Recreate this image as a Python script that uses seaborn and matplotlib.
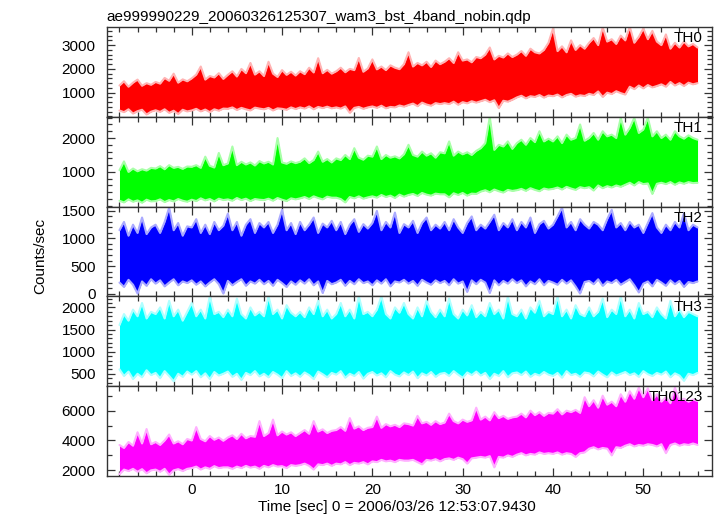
import numpy as np
import pandas as pd
import matplotlib
matplotlib.use('Agg')
import matplotlib.pyplot as plt
from matplotlib.ticker import FixedLocator, MultipleLocator
import seaborn as sns

# ── DATA (envelope of the binned light curves) ──────────────────────────────
TITLE  = "ae999990229_20060326125307_wam3_bst_4band_nobin.qdp"
XLABEL = "Time [sec] 0 = 2006/03/26 12:53:07.9430"
YLABEL = "Counts/sec"
BANDS  = ["TH0", "TH1", "TH2", "TH3", "TH0123"]

# sample times (sec), 0.5 s grid from -8 to 56
TIME = np.arange(-8.0, 56.25, 0.5)

TH0_HI = [
    1300, 1480, 1250, 1420, 1550, 1290, 1400, 1330,
    1450, 1380, 1620, 1500, 1800, 1420, 1560, 1480,
    1600, 1760, 2100, 1550, 1700, 1640, 1820, 1580,
    1750, 1900, 1680, 2000, 1820, 2250, 1760, 1900,
    1700, 2300, 1800, 1660, 1950, 1750, 1880, 1720,
    1900, 1780, 2050, 1850, 2450, 1820, 1960, 1800,
    1900, 2050, 1860, 2000, 1950, 2460, 1880, 2020,
    2400, 1980, 2100, 1950, 2150, 2050, 1990, 2200,
    2700, 2100, 2250, 2150, 2300, 2080, 2350, 2200,
    2300, 2450, 2250, 2700, 2350, 2400, 2280, 2500,
    2450, 2600, 2900, 2400, 2550, 2480, 2650, 2500,
    2600, 2750, 2550, 2850, 2700, 2650, 2800, 3100,
    3700, 2750, 2950, 2700, 3200, 2800, 3000, 2850,
    3100, 3300, 3000, 3750, 3150, 3250, 3050, 3400,
    3200, 3770, 3100, 3350, 3700, 3250, 3600, 3150,
    3000, 3450, 2850, 3100, 2900, 3150, 2950, 3050,
    2900]
TH0_LO = [
    250, 180, 300, 120, 220, 280, 80, 200,
    260, 190, 300, 150, 240, 100, 280, 210,
    250, 320, 210, 290, 180, 300, 240, 330,
    320, 380, 270, 360, 300, 250, 370, 330,
    300, 360, 250, 340, 320, 280, 380, 310,
    380, 330, 420, 300, 400, 350, 410, 340,
    380, 330, 420, 150, 360, 400, 320, 380,
    420, 360, 450, 340, 400, 380, 460, 410,
    480, 540, 430, 580, 500, 450, 560, 520,
    560, 520, 620, 490, 600, 550, 640, 580,
    640, 700, 600, 680, 350, 660, 620, 700,
    800, 870, 760, 850, 820, 900, 790, 880,
    850, 920, 800, 900, 950, 830, 890, 860,
    950, 900, 1050, 820, 1000, 940, 1060, 980,
    920, 1250, 1150, 1300, 1180, 1320, 1220, 1280,
    1350, 1250, 1450, 1300, 1400, 1280, 1420, 1350,
    1400]

TH1_HI = [
    1050, 1310, 1000, 1100, 1020, 1080, 1040, 1120,
    1100, 1170, 1080, 1200, 1120, 1150, 1090, 1160,
    1150, 1200, 1120, 1450, 1180, 1130, 1560, 1200,
    1250, 1750, 1200, 1300, 1220, 1280, 1190, 1320,
    1250, 1300, 1220, 2000, 1280, 1240, 1310, 1260,
    1300, 1400, 1260, 1350, 1600, 1300, 1380, 1280,
    1400, 1350, 1500, 1380, 1700, 1420, 1360, 1480,
    1450, 1750, 1380, 1500, 1420, 1460, 1400, 1520,
    1800, 1500, 1450, 1600, 1480, 1550, 1420, 1580,
    1550, 1900, 1480, 1600, 1520, 1580, 1500, 1620,
    1700, 1850, 2620, 1650, 1800, 1750, 1900, 1680,
    1850, 1950, 1800, 2000, 1880, 2200, 1900, 1980,
    1900, 2050, 1850, 2100, 1950, 2000, 2400, 1920,
    2000, 2150, 1950, 2200, 2050, 2100, 2000, 2600,
    2100, 2300, 2600, 2150, 2250, 2600, 2050, 2200,
    2000, 2100, 1950, 2200, 2050, 1980, 2080, 2000,
    1950]
TH1_LO = [
    150, 100, 190, 120, 160, 90, 180, 130,
    140, 190, 110, 170, 130, 200, 150, 120,
    180, 140, 220, 160, 200, 130, 210, 170,
    190, 150, 230, 170, 210, 140, 200, 180,
    170, 210, 150, 230, 180, 140, 220, 190,
    220, 260, 200, 280, 230, 190, 270, 240,
    240, 200, 100, 260, 220, 280, 210, 250,
    280, 240, 320, 260, 300, 230, 330, 270,
    320, 350, 290, 380, 330, 300, 360, 340,
    340, 250, 370, 320, 380, 300, 360, 350,
    420, 460, 400, 480, 430, 390, 470, 440,
    460, 500, 440, 520, 470, 430, 510, 480,
    500, 540, 480, 560, 510, 470, 550, 520,
    550, 450, 600, 520, 580, 540, 600, 560,
    620, 680, 600, 700, 640, 660, 350, 650,
    680, 640, 700, 620, 690, 650, 700, 670,
    680]

TH2_HI = [
    1150, 1300, 1050, 1250, 1100, 1380, 1080, 1200,
    1250, 1100, 1300, 1560, 1150, 1280, 1050, 1220,
    1200, 1350, 1100, 1250, 1080, 1300, 1150, 1230,
    1450, 1150, 1300, 1050, 1250, 1350, 1100, 1280,
    1200, 1300, 1100, 1250, 1520, 1150, 1280, 1080,
    1300, 1150, 1250, 1380, 1100, 1270, 1200, 1320,
    1150, 1300, 1080, 1250, 1350, 1120, 1260, 1180,
    1280, 1500, 1150, 1300, 1200, 1470, 1100, 1260,
    1200, 1320, 1100, 1280, 1380, 1150, 1250, 1180,
    1300, 1150, 1350, 1200, 1100, 1280, 1400, 1150,
    1250, 1180, 1300, 1430, 1150, 1280, 1200, 1350,
    1150, 1300, 1200, 1380, 1100, 1260, 1320, 1180,
    1250, 1400, 1560, 1200, 1300, 1150, 1350, 1250,
    1180, 1300, 1250, 1150, 1350, 1520, 1200, 1280,
    1150, 1300, 1200, 1250, 1100, 1280, 1460, 1200,
    1100, 1250, 1150, 1300, 1200, 1460, 1150, 1250,
    1200]
TH2_LO = [
    200, 120, 250, 160, 0, 220, 140, 260,
    180, 240, 130, 200, 260, 150, 220, 190,
    240, 160, 220, 130, 200, 260, 170, 0,
    230, 150, 210, 260, 140, 220, 180, 250,
    170, 230, 140, 250, 190, 120, 220, 160,
    240, 180, 260, 150, 220, 10, 230, 170,
    200, 250, 140, 230, 170, 260, 190, 220,
    150, 240, 180, 260, 130, 220, 200, 250,
    180, 230, 140, 250, 200, 160, 240, 190,
    230, 150, 260, 180, 220, 30, 240, 170,
    250, 200, 10, 240, 150, 230, 180, 260,
    190, 240, 130, 220, 170, 260, 150, 230,
    200, 160, 250, 180, 240, 130, 0, 210,
    230, 170, 260, 140, 220, 190, 250, 160,
    210, 260, 150, 20, 180, 220, 130, 250,
    200, 140, 240, 170, 230, 120, 210, 190,
    220]

TH3_HI = [
    1600, 1850, 1700, 1950, 1800, 2100, 1750, 1900,
    1850, 2000, 1750, 2150, 1800, 1950, 1700, 1900,
    2100, 1800, 1950, 1750, 2250, 1850, 1900, 1780,
    1950, 1800, 2200, 1850, 1750, 2000, 1820, 1900,
    1800, 2250, 1850, 1950, 1750, 2050, 1880, 1800,
    1900, 1780, 2000, 1850, 2150, 1800, 1950, 1750,
    1850, 2100, 1800, 1950, 1750, 2250, 1850, 1900,
    1800, 1950, 2250, 1850, 1750, 2000, 1880, 2100,
    1850, 1750, 2000, 1800, 2150, 1900, 1780, 1950,
    1800, 2200, 1850, 1750, 1950, 1820, 2050, 1780,
    1900, 1800, 2100, 1850, 1950, 1750, 2250, 1850,
    1800, 1950, 1750, 2000, 1880, 2150, 1800, 1900,
    1850, 2250, 1800, 1950, 1750, 2050, 1850, 1800,
    2000, 1800, 1900, 2200, 1780, 1950, 1850, 2250,
    1800, 1950, 1750, 2100, 1850, 1900, 1780, 2000,
    1850, 1750, 2150, 1800, 1950, 1780, 1900, 1850,
    1800]
TH3_LO = [
    600, 450, 550, 380, 500, 420, 580, 470,
    520, 400, 560, 450, 330, 500, 430, 550,
    480, 560, 420, 510, 380, 540, 460, 500,
    550, 430, 500, 360, 520, 470, 560, 440,
    500, 420, 540, 480, 400, 560, 450, 510,
    430, 530, 470, 380, 550, 490, 420, 520,
    480, 560, 410, 500, 450, 540, 390, 500,
    540, 460, 510, 420, 560, 480, 440, 530,
    470, 550, 400, 510, 460, 540, 430, 500,
    520, 450, 560, 480, 410, 530, 470, 550,
    460, 520, 380, 500, 450, 560, 420, 510,
    530, 470, 550, 430, 500, 460, 540, 480,
    450, 520, 410, 560, 470, 500, 430, 530,
    510, 440, 550, 480, 420, 530, 460, 500,
    540, 470, 510, 430, 560, 490, 450, 520,
    480, 550, 420, 510, 460, 340, 500, 470,
    520]

TH0123_HI = [
    3700, 3500, 3900, 3650, 4550, 3800, 4770, 3750,
    3900, 3700, 4000, 4400, 3800, 3950, 3750, 4100,
    4000, 4900, 4100, 3950, 4300, 4050, 4200, 3980,
    4200, 4350, 4100, 4450, 4150, 4300, 4250, 5300,
    4300, 4500, 5400, 4350, 4600, 4400, 4550, 4300,
    4500, 4700, 4450, 5300, 4600, 4750, 4500, 4650,
    4700, 4900, 4650, 5500, 4800, 4950, 4700, 4850,
    4900, 5600, 4850, 5100, 4950, 5050, 4900, 5150,
    5100, 5000, 5650, 5150, 5250, 5050, 5300, 5100,
    5200, 5800, 5300, 5150, 5400, 5250, 5350, 6200,
    5400, 5600, 5350, 5900, 5500, 5650, 5450, 5550,
    5600, 5800, 5550, 6000, 5700, 5900, 5650, 5850,
    5800, 6100, 5750, 6000, 5900, 6050, 5850, 6900,
    6300, 6700, 6200, 7000, 6400, 6600, 6300, 7100,
    6600, 7300, 6800, 7550, 6900, 7500, 6700, 7100,
    6600, 6900, 6500, 7550, 6700, 6800, 6600, 6750,
    6650]
TH0123_LO = [
    1750, 2050, 1950, 2100, 1900, 2080, 1800, 2000,
    2050, 1900, 2100, 1700, 2000, 2080, 1950, 2100,
    2150, 2250, 2050, 2200, 2100, 2280, 2150, 2200,
    2200, 2100, 2250, 2150, 2300, 2180, 2250, 2100,
    2300, 2200, 2350, 2250, 2280, 2150, 2350, 2300,
    2350, 2450, 2300, 2050, 2400, 2350, 2450, 2300,
    2450, 2400, 2550, 2350, 2500, 2450, 2550, 2400,
    2600, 2550, 2700, 2600, 2650, 2550, 2700, 2650,
    2650, 2700, 2550, 2400, 2700, 2650, 2750, 2600,
    2750, 2800, 2700, 2850, 2750, 2450, 2800, 2850,
    2900, 2850, 2950, 2200, 2900, 2850, 3000, 2900,
    3050, 3150, 3000, 3100, 3050, 3200, 3100, 3150,
    3100, 3200, 3050, 3150, 3100, 2900, 3150, 3200,
    3450, 3550, 3400, 3500, 3450, 3000, 3550, 3500,
    3650, 3750, 3600, 3700, 3650, 3750, 3700, 3600,
    3750, 3150, 3700, 3800, 3650, 3750, 3700, 3800,
    3700]

Y_TICKS = [[1000, 2000, 3000], [1000, 2000], [0, 500, 1000, 1500],
           [500, 1000, 1500, 2000], [2000, 4000, 6000]]

# ── STYLE ────────────────────────────────────────────────────────────────────
HIGHS  = [TH0_HI, TH1_HI, TH2_HI, TH3_HI, TH0123_HI]
LOWS   = [TH0_LO, TH1_LO, TH2_LO, TH3_LO, TH0123_LO]
COLORS = ['#ff0000', '#00ff00', '#0000ff', '#00ffff', '#ff00ff']
LIGHTS = ['#ffb4b4', '#a8ffa8', '#aaaaff', '#b0ffff', '#ffb0ff']
YLIMS  = [(-10, 3770), (-20, 2630), (-50, 1580), (220, 2250), (1620, 7640)]
MINORS = [200, 200, 100, 100, 1000]

sns.set_style('ticks')
plt.rcParams['font.family'] = ['Liberation Sans', 'DejaVu Sans']
plt.rcParams['text.color'] = 'black'
plt.rcParams['xtick.labelcolor'] = 'black'
plt.rcParams['ytick.labelcolor'] = 'black'

fig, axes = plt.subplots(5, 1, sharex=True, figsize=(7.17, 5.16), dpi=100)
fig.subplots_adjust(left=0.149, right=0.993, top=0.948, bottom=0.0775, hspace=0)

for i, ax in enumerate(axes):
    df = pd.DataFrame({'time': TIME, 'hi': HIGHS[i], 'lo': LOWS[i]})
    # error-bar fringe
    sns.lineplot(data=df, x='time', y='hi', color=LIGHTS[i], linewidth=1.5,
                 estimator=None, ax=ax)
    sns.lineplot(data=df, x='time', y='lo', color=LIGHTS[i], linewidth=1.5,
                 estimator=None, ax=ax)
    # data band
    ax.fill_between(df['time'], df['lo'], df['hi'], color=COLORS[i], lw=0)

    ax.set_ylim(*YLIMS[i])
    ax.set_xlim(-9.4, 57.6)
    ax.yaxis.set_major_locator(FixedLocator(Y_TICKS[i]))
    ax.yaxis.set_minor_locator(MultipleLocator(MINORS[i]))
    ax.xaxis.set_major_locator(MultipleLocator(10))
    ax.xaxis.set_minor_locator(MultipleLocator(2))
    ax.tick_params(which='both', direction='in', top=True, right=True,
                   color='#333333', labelcolor='black', width=0.9, labelsize=11)
    ax.tick_params(which='major', length=5.5)
    ax.tick_params(which='minor', length=3.5)
    ax.tick_params(axis='y', pad=8)
    ax.tick_params(axis='x', pad=5)
    for sp in ax.spines.values():
        sp.set_color('#333333')
        sp.set_linewidth(1.0)
    ax.set_xlabel('')
    ax.set_ylabel('')
    ax.text(0.985, 0.955, BANDS[i], transform=ax.transAxes,
            ha='right', va='top', fontsize=11, color='black')

axes[0].set_title(TITLE, loc='left', fontsize=11, pad=4.5, color='black')
fig.text(397 / 717, 1 - 511.5 / 516, XLABEL, ha='center', va='baseline',
         fontsize=11, color='black')
fig.text(40 / 717, 1 - 256 / 516, YLABEL, ha='center', va='center',
         rotation=90, fontsize=11, color='black')

plt.savefig('out.png', dpi=100)
plt.close()
